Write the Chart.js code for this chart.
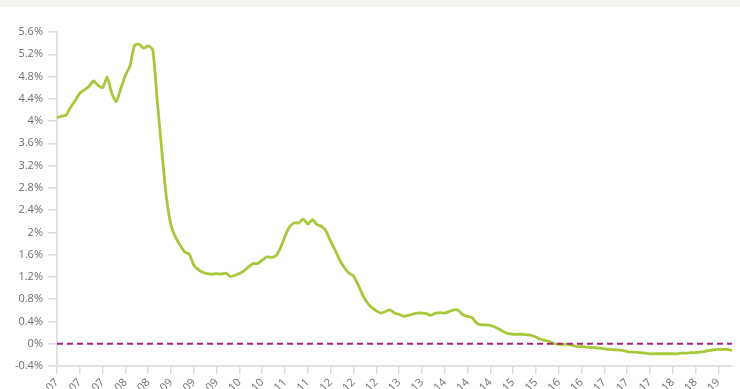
<!DOCTYPE html>
<html>
<head>
<meta charset="utf-8">
<script src="https://cdn.jsdelivr.net/npm/chart.js@4"></script>
<style>
    html, body { margin: 0; padding: 0; background: #fff; overflow: hidden; }
    .top-band { height: 7px; background: #f3f3ef; }
    .chart-box { position: relative; width: 740px; height: 382px; }
</style>
</head>
<body>
<div class="top-band"></div>
<div class="chart-box"><canvas id="rateChart"></canvas></div>
<script>
// ==========================================
// DATOS
// ==========================================
const MONTHS = ['Jan', 'Feb', 'Mar', 'Apr', 'May', 'Jun', 'Jul', 'Aug', 'Sep', 'Oct', 'Nov', 'Dec'];
const YEARS = ['07', '08', '09', '10', '11', '12', '13', '14', '15', '16', '17', '18', '19'];
const LAST_MONTHS_2019 = 5; // Jan-19 .. May-19

// monthly rate, % (one row per year)
const rate2007 = [4.06, 4.09, 4.11, 4.25, 4.37, 4.50, 4.56, 4.62, 4.72, 4.64, 4.60, 4.79];
const rate2008 = [4.50, 4.35, 4.59, 4.82, 4.99, 5.36, 5.38, 5.31, 5.35, 5.28, 4.35, 3.45];
const rate2009 = [2.62, 2.13, 1.91, 1.77, 1.65, 1.61, 1.41, 1.33, 1.28, 1.26, 1.25, 1.26];
const rate2010 = [1.25, 1.27, 1.21, 1.23, 1.26, 1.31, 1.38, 1.44, 1.44, 1.50, 1.56, 1.55];
const rate2011 = [1.58, 1.72, 1.93, 2.10, 2.17, 2.17, 2.24, 2.15, 2.23, 2.14, 2.11, 2.02];
const rate2012 = [1.84, 1.68, 1.50, 1.37, 1.27, 1.22, 1.06, 0.88, 0.74, 0.65, 0.59, 0.55];
const rate2013 = [0.58, 0.61, 0.55, 0.53, 0.49, 0.51, 0.53, 0.55, 0.55, 0.54, 0.51, 0.55];
const rate2014 = [0.56, 0.55, 0.58, 0.61, 0.60, 0.52, 0.49, 0.47, 0.37, 0.34, 0.34, 0.33];
const rate2015 = [0.30, 0.26, 0.21, 0.18, 0.17, 0.17, 0.17, 0.16, 0.15, 0.12, 0.08, 0.06];
const rate2016 = [0.04, 0.00, -0.01, -0.01, -0.01, -0.03, -0.05, -0.05, -0.06, -0.07, -0.07, -0.08];
const rate2017 = [-0.09, -0.10, -0.11, -0.11, -0.12, -0.14, -0.15, -0.15, -0.16, -0.17, -0.18, -0.18];
const rate2018 = [-0.18, -0.18, -0.18, -0.18, -0.18, -0.17, -0.17, -0.16, -0.16, -0.15, -0.14, -0.12];
const rate2019 = [-0.11, -0.10, -0.10, -0.10, -0.12];

const rateValues = [].concat(rate2007, rate2008, rate2009, rate2010, rate2011, rate2012,
    rate2013, rate2014, rate2015, rate2016, rate2017, rate2018, rate2019);

const monthLabels = [];
YEARS.forEach((yy, i) => {
    const n = i === YEARS.length - 1 ? LAST_MONTHS_2019 : 12;
    for (let m = 0; m < n; m++) monthLabels.push(MONTHS[m] + '-' + yy);
});

const Y_MIN = -0.4;
const Y_MAX = 5.6;
const Y_STEP = 0.4;
const yTickLabels = ['-0.4%', '0%', '0.4%', '0.8%', '1.2%', '1.6%', '2%', '2.4%', '2.8%', '3.2%', '3.6%', '4%', '4.4%', '4.8%', '5.2%', '5.6%'];
const X_LABEL_EVERY = 5;
const referenceValue = 0;

// ==========================================
// LÍNEA DE REFERENCIA (0%) DISCONTINUA
// ==========================================
const refLinePlugin = {
    id: 'refLine',
    afterDatasetsDraw(chart) {
        const { ctx, scales } = chart;
        const y = scales.y.getPixelForValue(referenceValue);
        const x0 = scales.x.getPixelForValue(0);
        const x1 = scales.x.getPixelForValue(monthLabels.length - 1);
        ctx.save();
        ctx.strokeStyle = '#a0237c';
        ctx.lineWidth = 2;
        ctx.setLineDash([6, 4]);
        ctx.beginPath();
        ctx.moveTo(x0, y);
        ctx.lineTo(x1, y);
        ctx.stroke();
        ctx.restore();
    }
};

Chart.defaults.font.family = '"Open Sans", sans-serif';
Chart.defaults.font.size = 11;
Chart.defaults.color = '#6e6e6e';

new Chart(document.getElementById('rateChart'), {
    type: 'line',
    data: {
        labels: monthLabels,
        datasets: [{
            data: rateValues,
            borderColor: '#a6c83a',
            borderWidth: 2.8,
            pointRadius: 0,
            tension: 0.2,
            fill: false
        }]
    },
    options: {
        responsive: true,
        maintainAspectRatio: false,
        animation: false,
        layout: { padding: { top: 25, right: 8, left: 0, bottom: 0 } },
        plugins: { legend: { display: false }, tooltip: { enabled: false } },
        scales: {
            x: {
                offset: false,
                grid: { drawOnChartArea: false, tickLength: 8, color: '#ddd', lineWidth: 1.5 },
                border: { color: '#e2e2e2', width: 2 },
                ticks: {
                    autoSkip: false,
                    minRotation: 45,
                    maxRotation: 45,
                    padding: 2,
                    callback: function (val, index) {
                        return index % X_LABEL_EVERY === 0 ? this.getLabelForValue(val) : null;
                    }
                },
                afterFit: (scale) => { scale.height = 23; }
            },
            y: {
                min: Y_MIN,
                max: Y_MAX,
                grid: { drawOnChartArea: false, tickLength: 9, color: '#ddd', lineWidth: 1.5 },
                border: { color: '#e2e2e2', width: 2 },
                ticks: {
                    stepSize: Y_STEP,
                    padding: 5,
                    callback: (val, index) => yTickLabels[index]
                },
                afterFit: (scale) => { scale.width = 57; }
            }
        }
    },
    plugins: [refLinePlugin]
});
</script>
</body>
</html>
